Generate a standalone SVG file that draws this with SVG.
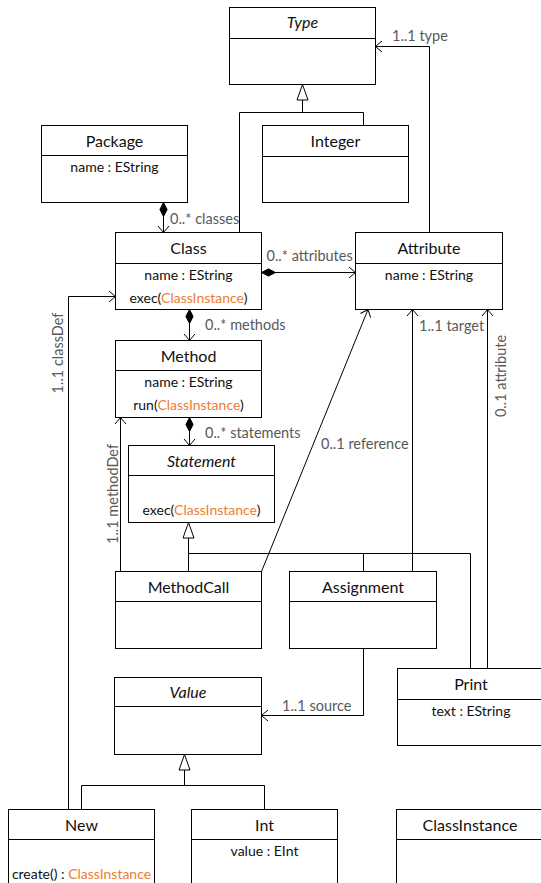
<svg xmlns="http://www.w3.org/2000/svg" width="541" height="883" viewBox="0 0 541 883">
<style>
.box{fill:#fff;stroke:#000;stroke-width:1}
.div{stroke:#000;stroke-width:1}
.t{font-family:Lato,"Liberation Sans",Arial,sans-serif;font-size:16px;font-weight:400;fill:#111;text-anchor:middle}
.i{font-style:italic}
.a{font-family:Lato,"Liberation Sans",Arial,sans-serif;font-size:14px;font-weight:400;fill:#111;text-anchor:middle}
.o{fill:#ED7D31}
.l{font-family:Lato,"Liberation Sans",Arial,sans-serif;font-size:14.5px;font-weight:400;fill:#595959}
.c{fill:none;stroke:#000;stroke-width:1}
</style>
<defs>
<marker id="open" viewBox="-8 -7 10 14" markerWidth="10" markerHeight="14" refX="0" refY="0" orient="auto" markerUnits="userSpaceOnUse">
<path d="M-6.5,-5.5 L0,0 L-6.5,5.5" fill="none" stroke="#000" stroke-width="1"/>
</marker>
<marker id="dia" viewBox="-1 -5 17 10" markerWidth="17" markerHeight="10" refX="0" refY="0" orient="auto" markerUnits="userSpaceOnUse">
<path d="M0,0 L7,-3.6 L14,0 L7,3.6 Z" fill="#000" stroke="#000" stroke-width="1"/>
</marker>
<marker id="gen" viewBox="-18 -8 20 16" markerWidth="20" markerHeight="16" refX="0" refY="0" orient="auto" markerUnits="userSpaceOnUse">
<path d="M0,0 L-15.5,-5.5 L-15.5,5.5 Z" fill="#fff" stroke="#000" stroke-width="1"/>
</marker>
</defs>
<rect width="541" height="883" fill="#fff"/>

<g id="connectors">
<path class="c" d="M239.5,232.5 V112.5 H363.5 V125.5"/>
<path class="c" d="M302.5,112.5 V84.5" marker-end="url(#gen)"/>
<path class="c" d="M429.5,232.5 V46.5 H375.5" marker-end="url(#open)"/>
<text class="l" x="392" y="41">1..1 type</text>
<path class="c" d="M163.5,202.5 V232.5" marker-start="url(#dia)" marker-end="url(#open)"/>
<text class="l" x="170" y="224">0..* classes</text>
<path class="c" d="M261.5,272.5 H355.5" marker-start="url(#dia)" marker-end="url(#open)"/>
<text class="l" x="266.5" y="261">0..* attributes</text>
<path class="c" d="M189.5,309.5 V340.5" marker-start="url(#dia)" marker-end="url(#open)"/>
<text class="l" x="205" y="330">0..* methods</text>
<path class="c" d="M189.5,417.5 V445.5" marker-start="url(#dia)" marker-end="url(#open)"/>
<text class="l" x="205" y="438">0..* statements</text>
<path class="c" d="M188.5,571.5 V553.5 H470.5 V668.5 M363.5,553.5 V571.5"/>
<path class="c" d="M188.5,553.5 V522.5" marker-end="url(#gen)"/>
<path class="c" d="M120.5,571.5 V417.5" marker-end="url(#open)"/>
<text class="l" transform="translate(117.5,494) rotate(-90)" text-anchor="middle">1..1 methodDef</text>
<path class="c" d="M261.5,571.5 L368,309.5" marker-end="url(#open)"/>
<text class="l" x="321" y="449">0..1 reference</text>
<path class="c" d="M412.5,571.5 V309.5" marker-end="url(#open)"/>
<text class="l" x="419" y="331">1..1 target</text>
<path class="c" d="M487.5,668.5 V309.5" marker-end="url(#open)"/>
<text class="l" transform="translate(506,376) rotate(-90)" text-anchor="middle">0..1 attribute</text>
<path class="c" d="M363.5,648.5 V715.5 H261.5" marker-end="url(#open)"/>
<text class="l" x="282" y="710.5">1..1 source</text>
<path class="c" d="M68.5,809.5 V296.5 H115.5" marker-end="url(#open)"/>
<text class="l" transform="translate(63,353) rotate(-90)" text-anchor="middle">1..1 classDef</text>
<path class="c" d="M81.5,809.5 V785.5 H264.5 V809.5"/>
<path class="c" d="M184.5,785.5 V754.5" marker-end="url(#gen)"/>
</g>

<g id="Type">
<rect class="box" x="229.5" y="7.5" width="146" height="77"/>
<line class="div" x1="229.5" y1="38.5" x2="375.5" y2="38.5"/>
<text class="t i" x="302.5" y="28">Type</text>
</g>
<g id="Integer">
<rect class="box" x="262.5" y="125.5" width="146" height="77"/>
<line class="div" x1="262.5" y1="156.5" x2="408.5" y2="156.5"/>
<text class="t" x="335.5" y="146.5">Integer</text>
</g>
<g id="Package">
<rect class="box" x="41.5" y="125.5" width="146" height="77"/>
<line class="div" x1="41.5" y1="155.5" x2="187.5" y2="155.5"/>
<text class="t" x="114.5" y="146.5">Package</text>
<text class="a" x="114.5" y="172">name : EString</text>
</g>
<g id="Class">
<rect class="box" x="115.5" y="232.5" width="146" height="77"/>
<line class="div" x1="115.5" y1="263.5" x2="261.5" y2="263.5"/>
<text class="t" x="188.5" y="253.5">Class</text>
<text class="a" x="188.5" y="280">name : EString</text>
<text class="a" x="188.5" y="303">exec(<tspan class="o">ClassInstance</tspan>)</text>
</g>
<g id="Attribute">
<rect class="box" x="355.5" y="232.5" width="147" height="77"/>
<line class="div" x1="355.5" y1="263.5" x2="502.5" y2="263.5"/>
<text class="t" x="429" y="253.5">Attribute</text>
<text class="a" x="429" y="280">name : EString</text>
</g>
<g id="Method">
<rect class="box" x="115.5" y="340.5" width="146" height="77"/>
<line class="div" x1="115.5" y1="370.5" x2="261.5" y2="370.5"/>
<text class="t" x="188.5" y="361.5">Method</text>
<text class="a" x="188.5" y="387">name : EString</text>
<text class="a" x="188.5" y="410">run(<tspan class="o">ClassInstance</tspan>)</text>
</g>
<g id="Statement">
<rect class="box" x="128.5" y="445.5" width="146" height="77"/>
<line class="div" x1="128.5" y1="475.5" x2="274.5" y2="475.5"/>
<text class="t i" x="201.5" y="466.5">Statement</text>
<text class="a" x="201.5" y="515">exec(<tspan class="o">ClassInstance</tspan>)</text>
</g>
<g id="MethodCall">
<rect class="box" x="115.5" y="571.5" width="146" height="77"/>
<line class="div" x1="115.5" y1="601.5" x2="261.5" y2="601.5"/>
<text class="t" x="188.5" y="592.5">MethodCall</text>
</g>
<g id="Assignment">
<rect class="box" x="289.5" y="571.5" width="147" height="77"/>
<line class="div" x1="289.5" y1="601.5" x2="436.5" y2="601.5"/>
<text class="t" x="363" y="592.5">Assignment</text>
</g>
<g id="Value">
<rect class="box" x="114.5" y="677.5" width="147" height="77"/>
<line class="div" x1="114.5" y1="706.5" x2="261.5" y2="706.5"/>
<text class="t i" x="188" y="697.5">Value</text>
</g>
<g id="Print">
<rect class="box" x="397.5" y="668.5" width="147" height="77"/>
<line class="div" x1="397.5" y1="699.5" x2="544.5" y2="699.5"/>
<text class="t" x="471" y="689.5">Print</text>
<text class="a" x="471" y="716">text : EString</text>
</g>
<g id="New">
<rect class="box" x="8.5" y="809.5" width="146" height="80"/>
<line class="div" x1="8.5" y1="839.5" x2="154.5" y2="839.5"/>
<text class="t" x="81.5" y="830.5">New</text>
<text class="a" x="81.5" y="879">create() : <tspan class="o">ClassInstance</tspan></text>
</g>
<g id="Int">
<rect class="box" x="191.5" y="809.5" width="146" height="80"/>
<line class="div" x1="191.5" y1="839.5" x2="337.5" y2="839.5"/>
<text class="t" x="264.5" y="830.5">Int</text>
<text class="a" x="264.5" y="856">value : EInt</text>
</g>
<g id="ClassInstance">
<rect class="box" x="396.5" y="809.5" width="147" height="80"/>
<line class="div" x1="396.5" y1="839.5" x2="543.5" y2="839.5"/>
<text class="t" x="470" y="830.5">ClassInstance</text>
</g>
</svg>
